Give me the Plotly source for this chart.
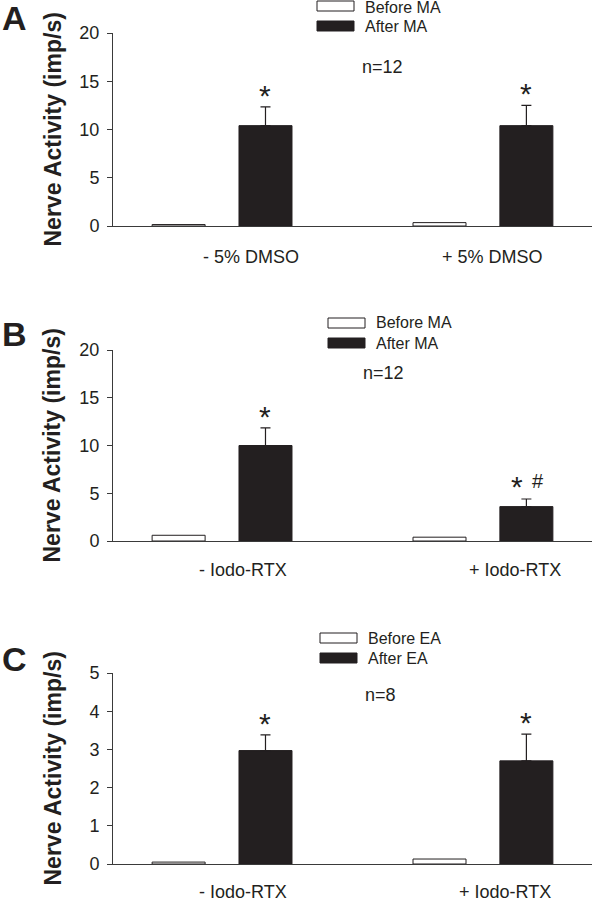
import plotly.graph_objects as go

# ---------------- data ----------------
cats_A = ["- 5% DMSO", "+ 5% DMSO"]
cats_B = ["- Iodo-RTX", "+ Iodo-RTX"]
cats_C = ["- Iodo-RTX ", "+ Iodo-RTX "]

before_A = [0.15, 0.35]
after_A = [10.4, 10.4]
err_A = [1.95, 2.1]

before_B = [0.6, 0.4]
after_B = [10.0, 3.6]
err_B = [1.85, 0.8]

before_C = [0.05, 0.13]
after_C = [2.97, 2.7]
err_C = [0.41, 0.7]

legend_A = ["Before MA", "After MA"]
legend_B = ["Before MA", "After MA"]
legend_C = ["Before EA", "After EA"]

n_text = ["n=12", "n=12", "n=8"]
marks_A = ["*", "*"]
marks_B = ["*", "* #"]
marks_C = ["*", "*"]
panel_letters = ["A", "B", "C"]
yticks_AB = [0, 5, 10, 15, 20]
yticks_C = [0, 1, 2, 3, 4, 5]
ytitle = "Nerve Activity (imp/s)"

# ---------------- layout constants ----------------
W, H = 592, 903
FONT = "Liberation Sans, Arial, sans-serif"
INK = "#231f20"
AX = "#3a3a3a"

def py(p):  # pixel y -> paper
    return 1 - p / H

def px(p):
    return p / W

panels = [
    dict(cats=cats_A, before=before_A, after=after_A, err=err_A, leg=legend_A,
         marks=marks_A, ytop=33, ybot=226, yr=[0, 20], ticks=yticks_AB,
         legbox=(317, 1), legtx=363, legty=2, n_xy=(382, 66.5), letter_y=17.5,
         lab_shift=[29, 9.5], lab_y=-31),
    dict(cats=cats_B, before=before_B, after=after_B, err=err_B, leg=legend_B,
         marks=marks_B, ytop=350, ybot=541, yr=[0, 20], ticks=yticks_AB,
         legbox=(328, 318), legtx=374, legty=0, n_xy=(383, 373), letter_y=334,
         lab_shift=[21, 32], lab_y=-29),
    dict(cats=cats_C, before=before_C, after=after_C, err=err_C, leg=legend_C,
         marks=marks_C, ytop=673, ybot=864, yr=[0, 5], ticks=yticks_C,
         legbox=(320, 633), legtx=366, legty=0, n_xy=(380, 695), letter_y=659,
         lab_shift=[21, 22], lab_y=-28),
]

fig = go.Figure()
annotations = []
shapes = []
layout = {}

for i, p in enumerate(panels):
    sfx = "" if i == 0 else str(i + 1)
    xa, ya = "x" + sfx, "y" + sfx
    fig.add_trace(go.Bar(
        x=p["cats"], y=p["before"], name=p["leg"][0], xaxis=xa, yaxis=ya,
        marker=dict(color="white", line=dict(color=INK, width=1)),
        showlegend=False, offsetgroup="b"))
    fig.add_trace(go.Bar(
        x=p["cats"], y=p["after"], name=p["leg"][1], xaxis=xa, yaxis=ya,
        marker=dict(color=INK, line=dict(color=INK, width=1)),
        error_y=dict(type="data", symmetric=False, array=p["err"],
                     arrayminus=[0] * len(p["err"]), color=INK,
                     thickness=1.2, width=5),
        showlegend=False, offsetgroup="a"))

    layout["xaxis" + sfx] = dict(
        domain=[px(113), 1], anchor=ya, type="category",
        categoryorder="array", categoryarray=p["cats"],
        range=[-0.418, 1.418], showline=True, linecolor=AX, linewidth=1,
        ticks="", showticklabels=False, showgrid=False, zeroline=False,
        automargin=False, fixedrange=True)
    layout["yaxis" + sfx] = dict(
        domain=[py(p["ybot"]), py(p["ytop"])], anchor=xa, range=p["yr"],
        tickvals=p["ticks"], ticks="outside", ticklen=5, tickwidth=1,
        tickcolor=AX, showline=True, linecolor=AX, linewidth=1,
        showgrid=False, zeroline=False, automargin=False,
        tickfont=dict(family=FONT, size=18, color=INK),
        ticklabelstandoff=4, fixedrange=True)

    annotations.append(dict(
        text="<b>" + ytitle + "</b>", textangle=-90, xref="paper", yref="paper",
        x=px(52), y=py((p["ytop"] + p["ybot"]) / 2), xanchor="center",
        yanchor="middle", showarrow=False,
        font=dict(family=FONT, size=23, color=INK)))
    annotations.append(dict(
        text="<b>" + panel_letters[i] + "</b>", xref="paper", yref="paper",
        x=0, y=py(p["letter_y"]), xanchor="left", yanchor="middle",
        showarrow=False, font=dict(family=FONT, size=34, color=INK)))
    for c, sh in zip(p["cats"], p["lab_shift"]):
        annotations.append(dict(
            text=c.strip(), xref=xa, yref=ya, x=c, y=0, xshift=sh,
            yanchor="middle", yshift=p["lab_y"], showarrow=False,
            font=dict(family=FONT, size=18, color=INK)))
    for c, v, e, m in zip(p["cats"], p["after"], p["err"], p["marks"]):
        if m == "*":
            annotations.append(dict(
                text="*", xref=xa, yref=ya, x=c, y=v + e, xshift=43,
                yanchor="bottom", yshift=-7, showarrow=False,
                font=dict(family=FONT, size=30, color=INK)))
        else:
            annotations.append(dict(
                text="*", xref=xa, yref=ya, x=c, y=v + e, xshift=34,
                yanchor="bottom", yshift=-6, showarrow=False,
                font=dict(family=FONT, size=30, color=INK)))
            annotations.append(dict(
                text="#", xref=xa, yref=ya, x=c, y=v + e, xshift=55,
                yanchor="bottom", yshift=5, showarrow=False,
                font=dict(family=FONT, size=20, color=INK)))
    bx, by = p["legbox"]
    for k, (name, fill) in enumerate(zip(p["leg"], ["white", INK])):
        y0 = by + k * 20
        shapes.append(dict(type="rect", xref="paper", yref="paper",
                           x0=px(bx), x1=px(bx + 37), y0=py(y0 + 10), y1=py(y0),
                           fillcolor=fill, line=dict(color=INK, width=1)))
        annotations.append(dict(
            text=name, xref="paper", yref="paper", x=px(p["legtx"]),
            y=py(y0 + 5 + (p["legty"] if k == 0 else 0)), xanchor="left",
            yanchor="middle", showarrow=False,
            font=dict(family=FONT, size=16, color=INK)))
    annotations.append(dict(
        text=n_text[i], xref="paper", yref="paper", x=px(p["n_xy"][0]),
        y=py(p["n_xy"][1]), xanchor="center", yanchor="middle",
        showarrow=False, font=dict(family=FONT, size=18, color=INK)))

fig.update_layout(
    template="none",
    width=W, height=H, margin=dict(l=0, r=0, t=0, b=0, pad=0, autoexpand=False),
    paper_bgcolor="white", plot_bgcolor="white",
    barmode="group", bargap=0.334, bargroupgap=0.39,
    showlegend=False, annotations=annotations, shapes=shapes,
    font=dict(family=FONT, color=INK), **layout)

fig.write_html(
    "out.html",
    config={"displayModeBar": False, "staticPlot": True},
    post_script="document.body.style.margin='0';document.body.style.padding='0';"
                "document.body.style.overflow='hidden';")
